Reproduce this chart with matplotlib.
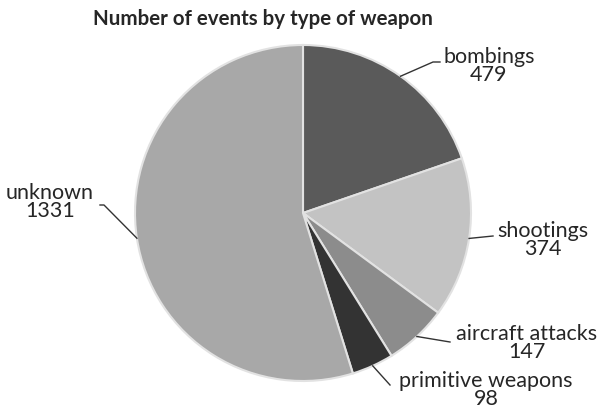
import numpy as np
import matplotlib.pyplot as plt

plt.rcParams['font.family'] = ['Lato', 'DejaVu Sans']

# dados
labels = ['bombings', 'shootings', 'aircraft attacks', 'primitive weapons', 'unknown']
counts = [479, 374, 147, 98, 1331]
colors = ['#5a5a5a', '#c3c3c3', '#8c8c8c', '#333333', '#a8a8a8']

# posição dos rótulos (centro do bloco de texto, em pixels) e fim da linha-guia
label_px = [(489, 66), (543, 240), (527, 343), (486, 390), (50, 202)]
leader_px = [[(433, 62), (440, 62)], [(493, 236)], [(450, 342)], [(390, 385)],
             [(104, 205), (100, 205)]]

W, H = 600, 409
cx, cy, R = 303, 213, 168   # centro e raio do pizza em pixels


def to_data(p):
    return (p[0] - cx) / R, (cy - p[1]) / R


fig = plt.figure(figsize=(W / 100, H / 100), dpi=100)
ax = fig.add_axes([0, 0, 1, 1])

wedges, _ = ax.pie(counts, colors=colors, startangle=90, counterclock=False,
                   radius=1.0, wedgeprops=dict(edgecolor='#e2e2e2', linewidth=1.5))

ax.set_xlim(-cx / R, (W - cx) / R)
ax.set_ylim((cy - H) / R, cy / R)
ax.set_aspect('equal')
ax.axis('off')

for w, lab, n, lp, ld in zip(wedges, labels, counts, label_px, leader_px):
    ang = np.deg2rad((w.theta1 + w.theta2) / 2)
    xs = [np.cos(ang)] + [to_data(p)[0] for p in ld]
    ys = [np.sin(ang)] + [to_data(p)[1] for p in ld]
    ax.plot(xs, ys, color='#333333', lw=1, clip_on=False)
    tx, ty = to_data(lp)
    ax.text(tx, ty, f'{lab}\n{n}', ha='center', va='center', fontsize=15.5,
            linespacing=0.92, color='#262626', multialignment='center')

fig.text(263 / W, 1 - 19 / H, 'Number of events by type of weapon', ha='center',
         va='center', fontsize=14.8, fontweight='bold', color='#262626')

fig.savefig('out.png', dpi=100)
